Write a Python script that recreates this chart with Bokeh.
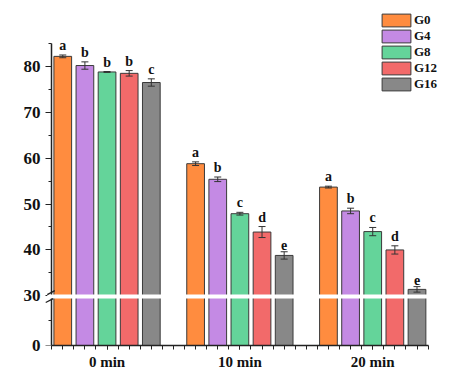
from bokeh.plotting import figure
from bokeh.models import (ColumnDataSource, Range1d, FixedTicker, Whisker, TeeHead,
                          BoxAnnotation, Arrow, Legend, LegendItem, LinearAxis)
from bokeh.core.properties import value
from bokeh.embed import file_html
from bokeh.resources import INLINE

# ---------------- data ----------------
times = ["0 min", "10 min", "20 min"]
groups = ["G0", "G4", "G8", "G12", "G16"]
colors = ["#FF8C3F", "#C48AE4", "#64D49A", "#F26A6A", "#888888"]

mean_G0 = [82.2, 58.8, 53.7]
mean_G4 = [80.2, 55.4, 48.5]
mean_G8 = [78.8, 47.9, 44.0]
mean_G12 = [78.5, 43.9, 40.0]
mean_G16 = [76.5, 38.8, 31.4]

err_G0 = [0.3, 0.4, 0.2]
err_G4 = [0.8, 0.5, 0.6]
err_G8 = [0.1, 0.3, 0.9]
err_G12 = [0.6, 1.2, 0.9]
err_G16 = [0.8, 0.8, 0.6]

let_G0 = ["a", "a", "a"]
let_G4 = ["b", "b", "b"]
let_G8 = ["b", "c", "c"]
let_G12 = ["b", "d", "d"]
let_G16 = ["c", "e", "e"]

y_tick_values = [0, 30, 40, 50, 60, 70, 80]
y_minor_values = [15, 35, 45, 55, 65, 75, 85]
BREAK = 30
Y_MAX = 85

means = [mean_G0, mean_G4, mean_G8, mean_G12, mean_G16]
errs = [err_G0, err_G4, err_G8, err_G12, err_G16]
lets = [let_G0, let_G4, let_G8, let_G12, let_G16]

# ---------------- broken axis transform ----------------
K = 0.3612  # compression of the segment below the break


def d(v):
    return round(v * K if v <= BREAK else BREAK * K + (v - BREAK), 5)


FONT = value("Liberation Serif")
AXIS_X = 0.5
INK = "#222222"

p = figure(width=466, height=372, output_backend="svg", toolbar_location=None,
           x_range=Range1d(0.175, 18.874), y_range=Range1d(0, 72.6),
           y_axis_location=None,
           min_border_left=44, min_border_right=8, min_border_top=12,
           min_border_bottom=25)
p.outline_line_color = None
for g in p.grid:
    g.visible = False
p.background_fill_color = "white"

group_centers = [3 + 6 * g for g in range(len(times))]

legend_items = []
for i, name in enumerate(groups):
    xs = [c + (i - 2) for c in group_centers]
    tops = [d(m) for m in means[i]]
    up = [d(m + e) for m, e in zip(means[i], errs[i])]
    lo = [d(m - e) for m, e in zip(means[i], errs[i])]
    src = ColumnDataSource(dict(x=xs, top=tops, upper=up, lower=lo, lab=lets[i]))
    r = p.vbar(x="x", top="top", bottom=0, width=0.8, source=src,
               fill_color=colors[i], line_color="#3a3a3a", line_width=1)
    legend_items.append(LegendItem(label=name, renderers=[r]))
    w = Whisker(base="x", upper="upper", lower="lower", source=src,
                line_color="#333333", line_width=1, level="annotation",
                upper_head=TeeHead(size=7, line_color="#333333", line_width=1),
                lower_head=TeeHead(size=7, line_color="#333333", line_width=1))
    p.add_layout(w)
    p.text(x="x", y="upper", text="lab", source=src, text_font=FONT,
           text_font_style="bold", text_font_size="14px", text_align="center",
           text_baseline="bottom", y_offset=-2, text_color="#111111")

y_ticker = FixedTicker(ticks=[d(v) for v in y_tick_values],
                       minor_ticks=[d(v) for v in y_minor_values])

# y axis labels (at the frame edge)
yl = LinearAxis(ticker=y_ticker)
yl.major_label_overrides = {d(v): str(v) for v in y_tick_values}
yl.axis_line_color = None
yl.major_tick_line_color = None
yl.minor_tick_line_color = None
yl.major_tick_in = 0
yl.major_tick_out = 0
yl.minor_tick_in = 0
yl.minor_tick_out = 0
yl.major_label_text_font = "Liberation Serif"
yl.major_label_text_font_style = "bold"
yl.major_label_text_font_size = "17px"
yl.major_label_text_color = "#111111"
yl.major_label_standoff = 4
p.add_layout(yl, "left")

# y axis line and ticks (placed at x = AXIS_X inside the frame)
yr = LinearAxis(ticker=y_ticker, fixed_location=AXIS_X)
yr.major_label_overrides = {d(v): "" for v in y_tick_values}
yr.bounds = (0, d(Y_MAX))
yr.axis_line_width = 1.5
yr.axis_line_color = INK
yr.major_tick_line_color = INK
yr.minor_tick_line_color = INK
yr.major_tick_in = 6
yr.major_tick_out = 0
yr.minor_tick_in = 3
yr.minor_tick_out = 0
yr.major_label_standoff = 0
yr.major_label_text_font_size = "1px"
p.add_layout(yr, "right")

# break band and slashes
b = d(BREAK)
p.add_layout(BoxAnnotation(left=AXIS_X - 0.2, right=17.5, bottom=b - 0.61, top=b + 0.26,
                           fill_color="white", fill_alpha=1, line_color=None))
p.add_layout(Arrow(end=None, x_start=AXIS_X - 0.2, y_start=b + 0.26,
                   x_end=AXIS_X + 0.14, y_end=b + 1.13,
                   line_color=INK, line_width=1.3))
p.add_layout(Arrow(end=None, x_start=AXIS_X - 0.27, y_start=b - 1.47,
                   x_end=AXIS_X + 0.07, y_end=b - 0.61,
                   line_color=INK, line_width=1.3))

# x axis
xa = p.xaxis[0]
half_units = [k / 2 for k in range(1, 36)]
xa.ticker = FixedTicker(ticks=[float(c) for c in group_centers], minor_ticks=half_units)
xa.major_label_overrides = {float(c): t for c, t in zip(group_centers, times)}
xa.bounds = (AXIS_X, 17.5)
xa.axis_line_width = 1.5
xa.axis_line_color = INK
xa.major_tick_line_color = INK
xa.minor_tick_line_color = INK
xa.major_tick_in = 0
xa.major_tick_out = 4
xa.minor_tick_in = 0
xa.minor_tick_out = 4
xa.major_label_text_font = "Liberation Serif"
xa.major_label_text_font_style = "bold"
xa.major_label_text_font_size = "15px"
xa.major_label_text_color = "#111111"
xa.major_label_standoff = 4

legend = Legend(items=legend_items, location=(334, 253), orientation="vertical",
                glyph_width=36, glyph_height=16, label_height=16, spacing=0,
                padding=0, margin=0, label_standoff=0,
                label_text_font="Liberation Serif", label_text_font_style="bold",
                label_text_font_size="13px", label_text_color="#111111",
                border_line_color=None, background_fill_alpha=0)
p.add_layout(legend)

open("out.html", "w").write(file_html(p, INLINE))
